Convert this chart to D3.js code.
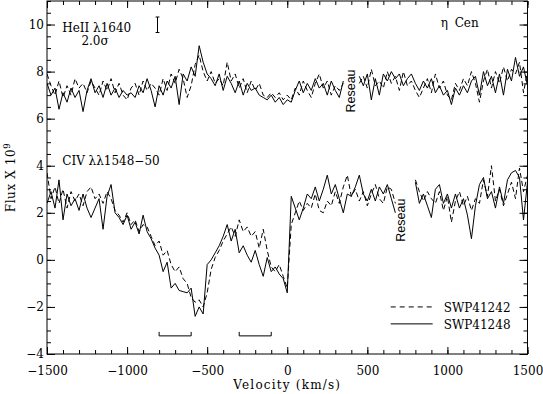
<!DOCTYPE html>
<html>
<head>
<meta charset="utf-8">
<script src="https://cdn.jsdelivr.net/npm/d3@7"></script>
<style>
  body { margin: 0; background: #fff; }
  text { font-family: "DejaVu Serif", serif; font-size: 12px; fill: #000; }
</style>
</head>
<body>
<div id="chart"></div>
<script>
// Data: velocity grid (km/s), fluxes (x 10^9)
const velocity = d3.range(-1500, 1501, 25);

const heII41242 = [
  7.9, 7.4, 7.0, 7.6, 6.9, 7.4, 7.0, 7.7, 7.3, 7.5, 7.1, 7.6, 7.3, 7.0, 7.6, 7.2, 7.7, 7.1, 7.5, 7.0,
  6.8, 7.3, 7.5, 7.0, 7.6, 7.2, 7.5, 7.3, 7.0, 7.7, 7.2, 7.9, 7.5, 8.1, 7.7, 6.9, 7.4, 8.3, 8.7, 8.0,
  7.6, 8.0, 7.5, 7.7, 7.4, 8.4, 7.6, 7.9, 7.3, 7.7, 7.1, 7.6, 7.2, 7.5, 7.0, 6.9, 7.1, 6.9, 7.1, 6.8,
  7.0, 6.8, 7.3, 7.0, 7.6, 7.2, 6.9, 7.5, 7.9, 7.3, 7.6, 7.0, 7.4, 7.2, 7.5, null, null, null, 7.5, 7.8,
  7.3, 8.1, 7.4, 7.6, 7.3, 8.0, 7.5, 7.8, 7.2, 8.0, 7.4, 7.6, 7.2, 6.9, 7.3, 7.7, 7.1, 7.9, 7.3, 7.6,
  7.0, 6.8, 7.5, 7.2, 7.7, 7.4, 8.0, 7.5, 6.7, 7.6, 8.1, 7.3, 8.0, 7.5, 8.2, 7.6, 8.1, 7.9, 8.4, 7.1,
  8.0
];
const heII41248 = [
  7.5, 7.0, 7.3, 6.4, 7.1, 6.7, 7.3, 6.9, 7.2, 6.3, 7.2, 7.7, 7.1, 7.4, 6.9, 7.5, 7.0, 7.3, 6.9, 7.2,
  7.0, 7.1, 6.9, 7.4, 7.1, 7.7, 7.2, 6.5, 7.4, 7.0, 7.6, 7.3, 7.8, 6.6, 7.9, 7.6, 8.2, 7.8, 9.1, 8.4,
  7.9, 7.7, 7.4, 7.9, 7.2, 7.8, 7.5, 7.1, 7.6, 7.0, 7.5, 7.2, 7.3, 7.0, 6.9, 6.8, 7.0, 6.7, 6.9, 6.6,
  6.8, 6.7, 7.2, 7.6, 7.1, 7.5, 7.2, 7.7, 7.3, 7.5, 7.0, 7.6, 7.2, 6.9, 7.6, null, null, null, 7.8, 7.4,
  7.9, 6.8, 7.7, 7.0, 7.9, 7.6, 8.0, 7.7, 7.9, 7.4, 7.7, 7.9, 7.5, 7.2, 7.6, 7.3, 7.7, 7.1, 7.4, 7.0,
  7.2, 6.6, 7.3, 7.0, 7.4, 7.1, 7.6, 7.8, 7.0, 8.0, 7.4, 7.8, 7.1, 7.9, 7.0, 8.1, 7.6, 8.6, 7.8, 8.2,
  7.4
];
const civ41242 = [
  3.7, 2.6, 3.1, 2.4, 3.0, 2.2, 2.9, 2.5, 2.8, 2.3, 2.9, 3.1, 2.6, 2.8, 2.4, 2.9, 2.6, 2.1, 1.9, 1.6,
  2.0, 1.5, 1.7, 1.2, 1.5, 1.4, 1.0, 0.6, 0.8, 0.2, 0.4, -0.2, -0.5, -0.3, -0.8, -1.0, -1.6, -1.8, -1.7, -2.0,
  -1.4, -0.4, 0.1, 0.4, 0.8, 1.1, 1.4, 1.0, 1.7, 1.2, 1.4, 1.0, 1.2, 0.5, 1.3, 0.4, -0.3, -0.5, -0.2, -0.7,
  -1.2, 1.5, 2.0, 2.5, 2.1, 2.4, 2.2, 2.8, 2.1, 2.0, 2.5, 2.3, 2.9, 2.4, 3.1, 3.6, 2.7, 3.0, 2.5, 2.9,
  2.3, 2.8, 3.2, 2.6, 2.4, 3.1, 3.0, 2.4, null, null, null, null, 3.4, 2.9, 2.5, 2.9, 2.6, 2.4, 2.9, 2.1,
  2.7, 1.6, 2.5, 2.9, 2.3, 2.7, 2.1, 2.6, 2.4, 3.4, 2.7, 4.0, 2.5, 3.0, 2.3, 2.8, 3.3, 2.6, 3.9, 2.9,
  3.6
];
const civ41248 = [
  2.4, 2.9, 2.2, 3.4, 1.7, 2.8, 2.3, 2.6, 2.1, 2.8, 2.2, 1.8, 2.2, 2.6, 1.3, 2.7, 3.2, 2.0, 1.8, 1.5,
  1.9, 1.3, 1.6, 1.1, 1.9, 1.2, 0.9, 0.5, 0.2, -0.5, -0.1, -1.2, -1.0, -1.3, -1.35, -1.4, -1.2, -2.4, -2.0, -2.3,
  -0.2, 0.0, 0.3, 0.6, 1.0, 1.5, 0.8, 1.3, 0.3, 0.6, 0.2, -0.1, 0.4, -0.2, -0.7, 0.1, -0.5, -0.3, -0.6, -0.8,
  -1.4, 2.7, 2.2, 1.7, 2.2, 2.8, 2.6, 3.1, 2.5, 3.0, 3.6, 2.8, 3.2, 2.6, 2.0, 2.8, 2.7, 3.1, 3.6, 2.8,
  2.5, 3.0, 2.5, 3.1, 2.8, 3.2, 2.6, 2.0, null, null, null, null, 3.3, 2.4, 2.8, 2.3, 1.8, 3.0, 3.2, 2.4,
  2.8, 2.2, 2.8, 2.2, 2.6, 1.9, 0.9, 2.3, 3.2, 3.5, 2.6, 2.9, 2.2, 3.1, 2.4, 3.4, 3.7, 3.8, 3.5, 1.7,
  3.3
];

const xMajorTicks = [-1500, -1000, -500, 0, 500, 1000, 1500];
const yMajorTicks = [-4, -2, 0, 2, 4, 6, 8, 10];
const brackets = [[-800, -600], [-300, -100]];
const legendNames = ["SWP41242", "SWP41248"];
const errorBarV = -810;
const errorBarRange = [9.66, 10.32];

// Dimensions
const dimensions = {
  width: 543,
  height: 394,
  margins: { top: 1, right: 15.5, bottom: 40, left: 47 },
};
dimensions.ctrWidth = dimensions.width - dimensions.margins.left - dimensions.margins.right;
dimensions.ctrHeight = dimensions.height - dimensions.margins.top - dimensions.margins.bottom;

const svg = d3
  .select("#chart")
  .append("svg")
  .attr("width", dimensions.width)
  .attr("height", dimensions.height);

const ctr = svg
  .append("g")
  .attr("transform", `translate(${dimensions.margins.left}, ${dimensions.margins.top})`);

// Scales
const xScale = d3.scaleLinear().domain([-1500, 1500]).range([0, dimensions.ctrWidth]);
const yScale = d3.scaleLinear().domain([-4, 11]).range([dimensions.ctrHeight, 0]);

svg.append("defs").append("clipPath").attr("id", "clip")
  .append("rect")
  .attr("width", dimensions.ctrWidth)
  .attr("height", dimensions.ctrHeight);

// Spectra
const lineGenerator = d3
  .line()
  .defined((d) => d != null)
  .x((d, i) => xScale(velocity[i]))
  .y((d) => yScale(d));

const series = [
  { values: heII41242, dash: "5,3" },
  { values: heII41248, dash: null },
  { values: civ41242, dash: "5,3" },
  { values: civ41248, dash: null },
];

ctr.append("g")
  .attr("clip-path", "url(#clip)")
  .selectAll("path")
  .data(series)
  .join("path")
  .attr("d", (d) => lineGenerator(d.values))
  .attr("fill", "none")
  .attr("stroke", "#000")
  .attr("stroke-width", 1)
  .attr("stroke-dasharray", (d) => d.dash);

// Axes: major + minor ticks on all four sides, pointing inward
const xMinor = d3.range(-1500, 1501, 100);
const yMinor = d3.range(-4, 11.01, 0.5);
const fmt = d3.format("d");

const bottomAxis = d3.axisBottom(xScale).tickValues(xMajorTicks).tickSize(-7).tickPadding(12).tickFormat(fmt);
const bottomMinor = d3.axisBottom(xScale).tickValues(xMinor).tickSize(-4).tickFormat("");
const topAxis = d3.axisTop(xScale).tickValues(xMajorTicks).tickSize(-7).tickFormat("");
const topMinor = d3.axisTop(xScale).tickValues(xMinor).tickSize(-4).tickFormat("");
const leftAxis = d3.axisLeft(yScale).tickValues(yMajorTicks).tickSize(-8).tickPadding(3).tickFormat(fmt);
const leftMinor = d3.axisLeft(yScale).tickValues(yMinor).tickSize(-4).tickFormat("");
const rightAxis = d3.axisRight(yScale).tickValues(yMajorTicks).tickSize(-8).tickFormat("");
const rightMinor = d3.axisRight(yScale).tickValues(yMinor).tickSize(-4).tickFormat("");

const axisGroups = [
  [bottomAxis, `translate(0,${dimensions.ctrHeight})`],
  [bottomMinor, `translate(0,${dimensions.ctrHeight})`],
  [topAxis, "translate(0,0)"],
  [topMinor, "translate(0,0)"],
  [leftAxis, "translate(0,0)"],
  [leftMinor, "translate(0,0)"],
  [rightAxis, `translate(${dimensions.ctrWidth},0)`],
  [rightMinor, `translate(${dimensions.ctrWidth},0)`],
];
axisGroups.forEach(([axis, tr]) => {
  const g = ctr.append("g").attr("transform", tr).call(axis);
  g.select(".domain").remove();
  g.selectAll("line").attr("stroke", "#000");
  g.selectAll("text").attr("fill", "#000");
});

ctr.append("rect")
  .attr("width", dimensions.ctrWidth)
  .attr("height", dimensions.ctrHeight)
  .attr("fill", "none")
  .attr("stroke", "#000")
  .attr("stroke-width", 1);

// Axis titles
ctr.append("text")
  .attr("x", xScale(0))
  .attr("y", dimensions.ctrHeight + 35)
  .attr("text-anchor", "middle")
  .attr("letter-spacing", 1.2)
  .text("Velocity (km/s)");

const yTitle = ctr.append("text")
  .attr("transform", `translate(-32,${dimensions.ctrHeight / 2}) rotate(-90)`)
  .attr("text-anchor", "middle")
  .attr("letter-spacing", 0.6);
yTitle.append("tspan").text("Flux X 10");
yTitle.append("tspan").attr("dy", -5).style("font-size", "8.5px").text("9");

// Annotations
ctr.append("text").attr("x", xScale(-1405)).attr("y", yScale(9.7)).text("HeII λ1640");
ctr.append("text").attr("x", xScale(-1285)).attr("y", yScale(9.15)).text("2.0σ");
ctr.append("text").attr("x", xScale(958)).attr("y", yScale(9.91)).attr("word-spacing", 3).text("η Cen");
ctr.append("text").attr("x", xScale(-1405)).attr("y", yScale(4.04)).text("CIV λλ1548−50");

// 2 sigma error bar
const errG = ctr.append("g").attr("stroke", "#000").attr("stroke-width", 1);
errG.append("line")
  .attr("x1", xScale(errorBarV)).attr("x2", xScale(errorBarV))
  .attr("y1", yScale(errorBarRange[0])).attr("y2", yScale(errorBarRange[1]));
errorBarRange.forEach((v) => {
  errG.append("line")
    .attr("x1", xScale(errorBarV - 12)).attr("x2", xScale(errorBarV + 12))
    .attr("y1", yScale(v)).attr("y2", yScale(v));
});

// Reseau marks (sans-serif, rotated)
[[420, 6.26], [733, 0.77]].forEach(([v, f]) => {
  ctr.append("text")
    .attr("transform", `translate(${xScale(v)},${yScale(f)}) rotate(-90)`)
    .style("font-family", "'Liberation Sans', Arial, sans-serif")
    .style("font-size", "12.5px")
    .text("Reseau");
});

// Component brackets
const bracketLine = d3.line().x((d) => xScale(d[0])).y((d) => yScale(d[1]));
ctr.selectAll(".bracket")
  .data(brackets)
  .join("path")
  .attr("class", "bracket")
  .attr("d", (d) => bracketLine([[d[0], -3.06], [d[0], -3.23], [d[1], -3.23], [d[1], -3.06]]))
  .attr("fill", "none")
  .attr("stroke", "#000");

// Legend
const legendRows = [-2.0, -2.72];
legendNames.forEach((name, i) => {
  ctr.append("line")
    .attr("x1", xScale(646)).attr("x2", xScale(908))
    .attr("y1", yScale(legendRows[i])).attr("y2", yScale(legendRows[i]))
    .attr("stroke", "#000")
    .attr("stroke-dasharray", i === 0 ? "5,4" : null);
  ctr.append("text")
    .attr("x", xScale(977))
    .attr("y", yScale(legendRows[i]) + 5)
    .text(name);
});
</script>
</body>
</html>
